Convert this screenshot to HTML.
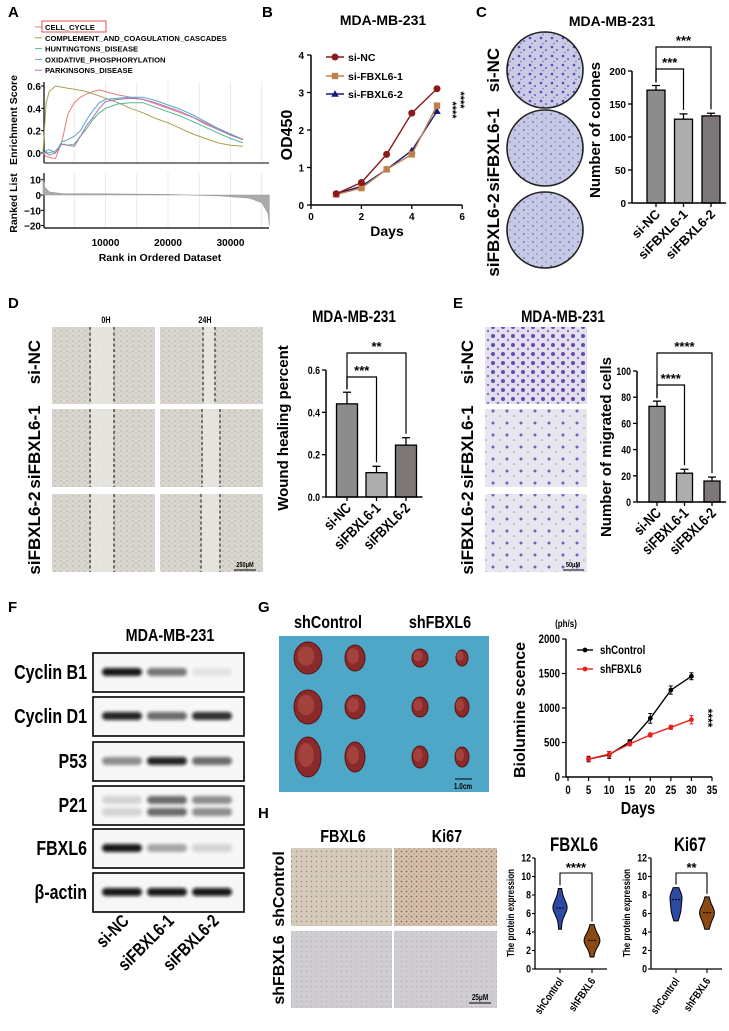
<!DOCTYPE html>
<html><head><meta charset="utf-8">
<style>
html,body{margin:0;padding:0;background:#fff;}
svg{display:block;font-family:"Liberation Sans",Arial,sans-serif;}
.n{font-family:"Liberation Sans",Arial,sans-serif;font-weight:bold;}
</style></head>
<body>
<svg id="fig" width="729" height="1031" viewBox="0 0 729 1031" xmlns="http://www.w3.org/2000/svg">
<defs>
<filter id="blur" x="-20%" y="-50%" width="140%" height="200%"><feGaussianBlur stdDeviation="1.6"/></filter>
<pattern id="colony" width="11" height="9" patternUnits="userSpaceOnUse">
<rect width="11" height="9" fill="#c9cbe5"/><circle cx="2" cy="2" r="1.3" fill="#5547b5"/><circle cx="7" cy="5" r="1" fill="#6a5cc0"/><circle cx="4" cy="7.5" r="0.8" fill="#7a70c8"/></pattern>
<pattern id="colony2" width="9" height="8" patternUnits="userSpaceOnUse">
<rect width="9" height="8" fill="#c6c9e3"/><circle cx="2" cy="2" r="0.9" fill="#6a5cc0"/><circle cx="6" cy="6" r="0.7" fill="#7e74cc"/></pattern>
<pattern id="wound" width="6" height="5" patternUnits="userSpaceOnUse">
<rect width="6" height="5" fill="#d9d6cf"/><circle cx="1" cy="1" r="0.6" fill="#a29a90"/><circle cx="4" cy="3" r="0.5" fill="#b5aea4"/></pattern>
<pattern id="trans" width="14" height="12" patternUnits="userSpaceOnUse">
<rect width="14" height="12" fill="#e6e6ee"/><circle cx="3" cy="3" r="1.5" fill="#7a5cc0"/><circle cx="10" cy="8" r="0.8" fill="#9a8ad0"/></pattern>
<pattern id="trans1" width="10" height="9" patternUnits="userSpaceOnUse">
<rect width="10" height="9" fill="#e2e0ec"/><circle cx="3" cy="3" r="2" fill="#6a48b8"/><circle cx="8" cy="7" r="1.2" fill="#8a70c8"/></pattern>
<pattern id="ihc1" width="5" height="5" patternUnits="userSpaceOnUse">
<rect width="5" height="5" fill="#d4cbbd"/><circle cx="1.5" cy="1.5" r="0.7" fill="#a88060"/></pattern>
<pattern id="ihc2" width="5" height="5" patternUnits="userSpaceOnUse">
<rect width="5" height="5" fill="#d2c2b0"/><circle cx="1.5" cy="1.5" r="0.9" fill="#a06040"/><circle cx="4" cy="4" r="0.6" fill="#b07860"/></pattern>
<pattern id="ihc3" width="5" height="5" patternUnits="userSpaceOnUse">
<rect width="5" height="5" fill="#cfcdd2"/><circle cx="1.5" cy="1.5" r="0.5" fill="#a8a0a0"/></pattern>
</defs>
<g id="root"></g>
</svg>
<script>
// ---------- DATA ----------
const gseaRanks = [0,500,1000,2000,3000,4000,5000,6000,7000,8000,9000,10000,12000,14000,16000,18000,20000,22000,24000,26000,28000,30000,32000];
const gseaNames = ["CELL_CYCLE","COMPLEMENT_AND_COAGULATION_CASCADES","HUNTINGTONS_DISEASE","OXIDATIVE_PHOSPHORYLATION","PARKINSONS_DISEASE"];
const esCellCycle = [0,-0.03,-0.04,-0.05,0.1,0.35,0.45,0.5,0.53,0.55,0.565,0.55,0.52,0.5,0.48,0.44,0.4,0.36,0.32,0.27,0.22,0.17,0.12];
const esComplement = [0,0.45,0.55,0.6,0.59,0.58,0.57,0.56,0.55,0.53,0.51,0.49,0.45,0.4,0.36,0.31,0.27,0.22,0.17,0.13,0.09,0.07,0.06];
const esHuntington = [0,0.01,0,0.02,0.08,0.07,0.08,0.15,0.22,0.3,0.36,0.4,0.44,0.45,0.45,0.41,0.37,0.33,0.28,0.23,0.18,0.13,0.09];
const esOxidative = [0,0.02,0.03,0,0.1,0.12,0.15,0.2,0.3,0.38,0.45,0.48,0.49,0.5,0.5,0.47,0.43,0.39,0.34,0.28,0.22,0.17,0.12];
const esParkinson = [0,0,-0.02,0,0.08,0.07,0.06,0.15,0.25,0.32,0.4,0.46,0.48,0.49,0.48,0.45,0.41,0.37,0.32,0.26,0.21,0.16,0.12];
const rlRanks = [0,300,1000,3000,10000,20000,28000,33000,35000,36000,36200];
const rlValues = [11,5,2,1,0.8,0.4,-0.5,-2,-5,-12,-20];
const esTicks = [0.0,0.2,0.4,0.6];
const rlTicks = [10,0,-10,-20];
const rankTicks = [10000,20000,30000];

const odDays = [1,2,3,4,5];
const odSiNC = [0.3,0.6,1.35,2.45,3.1];
const odSi1 = [0.28,0.45,0.95,1.35,2.65];
const odSi2 = [0.3,0.5,0.95,1.45,2.5];
const odXTicks = [0,2,4,6];
const odYTicks = [0,1,2,3,4];

const groups = ["si-NC","siFBXL6-1","siFBXL6-2"];
const colonyVals = [171,127,132];
const colonyErr = [7,8,4];
const colonyTicks = [0,50,100,150,200];
const woundVals = [0.44,0.115,0.245];
const woundErr = [0.055,0.03,0.035];
const woundTicks = [0.0,0.2,0.4,0.6];
const migVals = [73,22,16];
const migErr = [4,3,3];
const migTicks = [0,20,40,60,80,100];

const blotRows = ["Cyclin B1","Cyclin D1","P53","P21","FBXL6","β-actin"];
const blotIntensity = [[0.95,0.55,0.08],[0.9,0.6,0.85],[0.45,0.9,0.6],[0.15,0.6,0.45],[0.95,0.35,0.15],[0.95,0.95,0.95]];

const bioDays = [5,10,15,20,25,30];
const bioCtrl = [260,320,510,850,1260,1460];
const bioCtrlErr = [40,50,30,70,60,50];
const bioSh = [260,330,480,610,720,830];
const bioShErr = [30,40,30,30,30,60];
const bioXTicks = [0,5,10,15,20,25,30,35];
const bioYTicks = [0,500,1000,1500,2000];

const violinGroups = ["shControl","shFBXL6"];
const fbxl6Ctrl = [4.3,5.4,6.0,6.3,6.5,6.6,6.8,7.0,7.3,7.8,8.7];
const fbxl6Sh = [1.3,2.2,2.7,2.9,3.0,3.1,3.3,3.6,4.0,4.8];
const ki67Ctrl = [5.2,6.0,6.3,6.5,7.0,7.5,7.7,7.9,8.1,8.8];
const ki67Sh = [4.3,5.0,5.5,5.8,6.0,6.1,6.3,6.6,7.0,7.8];
const violinTicks = [0,2,4,6,8,10,12];

// ---------- HELPERS ----------
const NS="http://www.w3.org/2000/svg";
const root=document.getElementById('root');
function mk(tag,attrs,name,parent){
  const e=document.createElementNS(NS,tag);
  for(const k in attrs) e.setAttribute(k,attrs[k]);
  
  
  (parent||root).appendChild(e);
  return e;
}
function txt(x,y,s,size,name,opt){
  opt=opt||{};
  const a={x:x,y:y,'font-size':size,'text-anchor':opt.anchor||'middle',fill:opt.fill||'#000','font-weight':'bold'};
  let tr='';
  if(opt.rot!==undefined) tr+='rotate('+opt.rot+' '+x+' '+y+') ';
  if(opt.cls==='n') tr+='translate('+x+' '+y+') scale(0.8 1) translate('+(-x)+' '+(-y)+')';
  if(tr) a.transform=tr;
  const t=mk('text',a,name,opt.parent);
  t.textContent=s;
  return t;
}
function line(x1,y1,x2,y2,name,w,c,extra){
  const a={x1:x1,y1:y1,x2:x2,y2:y2,stroke:c||'#000','stroke-width':w||1.3};
  if(extra) for(const k in extra) a[k]=extra[k];
  return mk('line',a,name);
}
function path(d,name,stroke,w,fill){
  return mk('path',{d:d,stroke:stroke||'none','stroke-width':w||1,fill:fill||'none'},name);
}
function poly(xs,ys){return xs.map((x,i)=>(i?'L':'M')+x.toFixed(1)+','+ys[i].toFixed(1)).join('');}

[["A",8,17],["B",262,17],["C",476,17],["D",8,308],["E",453,308],["F",8,612],["G",258,612],["H",258,818]].forEach(p=>{
  txt(p[1],p[2],p[0],15,'panel-label-'+p[0].toLowerCase(),{anchor:'start'});
});

// ---------- PANEL A ----------
(function(){
  const xA=r=>43+r*0.00625, yES=v=>153-v*111.7, yRL=v=>195-v*1.53;
  const colors=["#e87a80","#a8a050","#50b890","#50a8d0","#b070b0"];
  const series=[esCellCycle,esComplement,esHuntington,esOxidative,esParkinson];
  gseaNames.forEach((n,i)=>{
    const y=27+i*10.8;
    line(35,y,42,y,'gsea-legend-line-'+i,1,colors[i]);
    txt(45,y+3,n,7.6,'gsea-legend-entry-'+i,{anchor:'start'});
  });
  mk('rect',{x:42,y:21,width:64,height:11,fill:'none',stroke:'#e04040','stroke-width':0.9},'cell-cycle-highlight-box');
  for(let r=5000;r<36000;r+=5000){
    line(xA(r),82,xA(r),163,'es-grid-line',0.8,'#e6e6e6');
    line(xA(r),173,xA(r),228,'rl-grid-line',0.8,'#e6e6e6');
  }
  line(44,82,44,163,'es-y-axis',1.2); line(44,163,269,163,'es-x-axis',1.5,'#555');
  line(44,173,44,228,'rl-y-axis',1.2); line(44,228,269,228,'rl-x-axis',1.2);
  esTicks.forEach(t=>{txt(41,yES(t)+4,t.toFixed(1),10,'es-tick-label',{anchor:'end'});line(41,yES(t),44,yES(t),'es-tick',1);});
  rlTicks.forEach(t=>{txt(41,yRL(t)+4,String(t).replace('-','−'),10,'rl-tick-label',{anchor:'end'});line(41,yRL(t),44,yRL(t),'rl-tick',1);});
  rankTicks.forEach(t=>{txt(xA(t),246,String(t),10,'rank-tick-label');});
  txt(160,261,'Rank in Ordered Dataset',10.5,'rank-axis-title');
  txt(17,120,'Enrichment Score',10.5,'es-axis-title',{rot:-90});
  txt(17,203,'Ranked List',10.5,'rl-axis-title',{rot:-90});
  const xs=rlRanks.map(xA), ys=rlValues.map(yRL);
  path(poly(xs,ys)+'L'+xs[xs.length-1]+','+yRL(0)+'L'+xs[0]+','+yRL(0)+'Z','ranked-list-area','#999',0.6,'#aaa');
  series.forEach((s,i)=>{
    path(poly(gseaRanks.map(xA),s.map(yES)),'es-curve-'+gseaNames[i].toLowerCase(),colors[i],1);
  });
})();

// ---------- PANEL B ----------
(function(){
  const xB=d=>311+d*25.2, yB=v=>205-v*37.5;
  txt(383,25,'MDA-MB-231',14,'od-title');
  line(311,yB(4),311,205,'od-y-axis',1.5); line(311,205,xB(6),205,'od-x-axis',1.5);
  odYTicks.forEach(t=>{line(307,yB(t),311,yB(t),'od-y-tick',1.3);txt(304,yB(t)+4,String(t),10,'od-y-tick-label',{anchor:'end'});});
  odXTicks.forEach(t=>{line(xB(t),205,xB(t),209,'od-x-tick',1.3);txt(xB(t),220,String(t),10,'od-x-tick-label');});
  txt(387,236,'Days',14,'od-x-title');
  txt(292,135,'OD450',16,'od-y-title',{rot:-90});
  const sers=[[odSi2,'#1a1a78','tri','si-FBXL6-2'],[odSi1,'#c0804a','sq','si-FBXL6-1'],[odSiNC,'#8b1a1a','circ','si-NC']];
  sers.forEach(s=>{
    path(poly(odDays.map(xB),s[0].map(yB)),'od-line-'+s[3],s[1],1.4);
    s[0].forEach((v,i)=>marker(xB(odDays[i]),yB(v),s[2],s[1],'od-point-'+s[3]));
  });
  function marker(x,y,t,c,n){
    if(t==='circ') mk('circle',{cx:x,cy:y,r:3.5,fill:c},n);
    else if(t==='sq') mk('rect',{x:x-3.2,y:y-3.2,width:6.4,height:6.4,fill:c},n);
    else path('M'+x+','+(y-3.8)+'L'+(x+3.8)+','+(y+2.8)+'L'+(x-3.8)+','+(y+2.8)+'Z',n,'none',0,c);
  }
  const leg=[['si-NC','#8b1a1a','circ',57],['si-FBXL6-1','#c0804a','sq',76],['si-FBXL6-2','#1a1a78','tri',94]];
  leg.forEach(l=>{line(326,l[3],344,l[3],'od-legend-line',1.4,l[1]);marker(335,l[3],l[2],l[1],'od-legend-marker');txt(348,l[3]+4,l[0],10.5,'od-legend-entry',{anchor:'start'});});
  txt(449,110,'****',11,'od-sig-1',{rot:90});
  txt(457,100,'****',11,'od-sig-2',{rot:90});
})();

function barChart(o){
  const fills=['#8c8c8c','#adadad','#7d7777'];
  o.vals.forEach((v,i)=>{
    const x=o.xc(i);
    mk('rect',{x:x-o.bw/2,y:o.y(v),width:o.bw,height:o.y0-o.y(v),fill:fills[i],stroke:'#000','stroke-width':1.3},o.pref+'-bar-'+groups[i]);
    line(x,o.y(v),x,o.y(v+o.err[i]),o.pref+'-error-bar',1.3);
    line(x-4,o.y(v+o.err[i]),x+4,o.y(v+o.err[i]),o.pref+'-error-cap',1.3);
    txt(x+5,o.y0+12,groups[i],o.xfs,o.pref+'-x-label',{anchor:'end',rot:-45,cls:o.narrow?'n':null});
  });
  const top=o.ticks[o.ticks.length-1];
  line(o.axisX,o.y(top),o.axisX,o.y0,o.pref+'-y-axis',1.5);
  line(o.axisX,o.y0,o.xc(2)+o.bw/2+6,o.y0,o.pref+'-x-axis',1.5);
  o.ticks.forEach(t=>{line(o.axisX-4,o.y(t),o.axisX,o.y(t),o.pref+'-y-tick',1.3);txt(o.axisX-6,o.y(t)+4,o.fmt(t),o.fs,o.pref+'-y-tick-label',{anchor:'end',cls:o.narrow?'n':null});});
  for(let i=0;i<3;i++) line(o.xc(i),o.y0,o.xc(i),o.y0+4,o.pref+'-x-tick',1.3);
  txt(o.lx,o.ly,o.label,o.lfs,o.pref+'-y-title',{rot:-90});
  o.br.forEach(b=>{
    const x1=o.xc(b[2]),x2=o.xc(b[3]);
    const y2=o.y(o.vals[b[3]]+o.err[b[3]])-4;
    path('M'+x1+','+(o.y(o.vals[b[2]]+o.err[b[2]])-3)+'L'+x1+','+b[0]+'L'+x2+','+b[0]+'L'+x2+','+y2,o.pref+'-sig-bracket','#000',1.2);
    txt((x1+x2)/2,b[0]-2,b[1],13,o.pref+'-sig-stars');
  });
}

// ---------- PANEL C ----------
(function(){
  txt(612,26,'MDA-MB-231',14,'colony-title');
  [[70,'colony'],[148,'colony2'],[230,'colony2']].forEach((c,i)=>{
    mk('circle',{cx:545,cy:c[0],r:38,fill:'url(#'+c[1]+')',stroke:'#222','stroke-width':1.6},'colony-dish-'+groups[i]);
  });
  txt(499,70,'si-NC',17,'colony-row-label-si-nc',{rot:-90});
  txt(499,150,'siFBXL6-1',17,'colony-row-label-sifbxl6-1',{rot:-90});
  txt(499,235,'siFBXL6-2',17,'colony-row-label-sifbxl6-2',{rot:-90});
  barChart({xc:i=>656+i*27.5,y:v=>203-v*0.66,axisX:632,y0:203,ticks:colonyTicks,vals:colonyVals,err:colonyErr,bw:18,
    fmt:t=>String(t),fs:10,label:'Number of colones',lx:600,ly:130,lfs:15,pref:'colony',narrow:false,
    br:[[69,'***',0,1],[47,'***',0,2]],xfs:13});
})();

// ---------- PANEL D ----------
(function(){
  txt(106,323,'0H',9,'wound-col-label-0h',{cls:'n'});
  txt(205,323,'24H',9,'wound-col-label-24h',{cls:'n'});
  const rows=[[327,404],[409,487],[494,572]];
  const dash24=[[203,215],[202,220],[201,220]];
  rows.forEach((r,i)=>{
    [[52,155,[90,114]],[160,263,dash24[i]]].forEach((c,j)=>{
      mk('rect',{x:c[0],y:r[0],width:c[1]-c[0],height:r[1]-r[0],fill:'url(#wound)'},'wound-image-'+groups[i]+'-'+(j?'24h':'0h'));
      mk('rect',{x:c[2][0]+1,y:r[0],width:c[2][1]-c[2][0]-2,height:r[1]-r[0],fill:'#e8e6e2',opacity:0.85},'wound-gap');
      c[2].forEach(x=>line(x,r[0],x,r[1],'wound-edge-dash',1,'#111',{'stroke-dasharray':'3,2.5'}));
    });
  });
  txt(245,567,'250μM',7,'wound-scale-text',{cls:'n'});
  line(234,570,256,570,'wound-scale-bar',1);
  txt(40,362,'si-NC',17,'wound-row-label-si-nc',{rot:-90});
  txt(40,447,'siFBXL6-1',17,'wound-row-label-sifbxl6-1',{rot:-90});
  txt(40,533,'siFBXL6-2',17,'wound-row-label-sifbxl6-2',{rot:-90});
  txt(354,322,'MDA-MB-231',17,'wound-title',{cls:'n'});
  barChart({xc:i=>347+i*29.5,y:v=>497-v*211.7,axisX:326,y0:497,ticks:woundTicks,vals:woundVals,err:woundErr,bw:21,
    fmt:t=>t.toFixed(1),fs:11,label:'Wound healing percent',lx:288,ly:428,lfs:15,pref:'wound',narrow:true,
    br:[[377,'***',0,1],[353,'**',0,2]],xfs:15});
})();

// ---------- PANEL E ----------
(function(){
  txt(563,322,'MDA-MB-231',17,'migration-title',{cls:'n'});
  const rows=[[327,404],[409,487],[494,572]];
  rows.forEach((r,i)=>{
    mk('rect',{x:485,y:r[0],width:102,height:r[1]-r[0],fill:i===0?'url(#trans1)':'url(#trans)'},'transwell-image-'+groups[i]);
  });
  txt(573,567,'50μM',7,'transwell-scale-text',{cls:'n'});
  line(563,570,584,570,'transwell-scale-bar',1);
  txt(473,362,'si-NC',17,'transwell-row-label-si-nc',{rot:-90});
  txt(473,447,'siFBXL6-1',17,'transwell-row-label-sifbxl6-1',{rot:-90});
  txt(473,533,'siFBXL6-2',17,'transwell-row-label-sifbxl6-2',{rot:-90});
  barChart({xc:i=>657+i*27.5,y:v=>502-v*1.31,axisX:637,y0:502,ticks:migTicks,vals:migVals,err:migErr,bw:16,
    fmt:t=>String(t),fs:11,label:'Number of migrated cells',lx:611,ly:447,lfs:15,pref:'migration',narrow:true,
    br:[[385,'****',0,1],[353,'****',0,2]],xfs:15});
})();

// ---------- PANEL F ----------
(function(){
  txt(170,641,'MDA-MB-231',18,'blot-title',{cls:'n'});
  const tops=[653,697,742,786,829,873], lanes=[122,167,212];
  blotRows.forEach((name,r)=>{
    const t=tops[r];
    mk('rect',{x:93,y:t,width:151,height:39,fill:'#f7f7f7',stroke:'#000','stroke-width':1.6},'blot-box-'+name);
    lanes.forEach((x,l)=>{
      const a=blotIntensity[r][l];
      const by = name==='P21' ? [t+14,t+26] : [t+19];
      by.forEach(yy=>mk('rect',{x:x-20,y:yy-4,width:40,height:8,rx:4,fill:'#111',opacity:a,filter:'url(#blur)'},'blot-band-'+name+'-'+groups[l]));
    });
    txt(87,t+26,name,20,'blot-row-label-'+name,{anchor:'end',cls:'n'});
  });
  lanes.forEach((x,l)=>txt(x+8,922,groups[l],18,'blot-lane-label-'+groups[l],{anchor:'end',rot:-45,cls:'n'}));
})();

// ---------- PANEL G ----------
(function(){
  txt(328,628,'shControl',18,'tumor-group-label-shcontrol',{cls:'n'});
  txt(440,628,'shFBXL6',18,'tumor-group-label-shfbxl6',{cls:'n'});
  mk('rect',{x:279,y:636,width:210,height:156,fill:'#4fa7c7'},'tumor-photo');
  const cols=[308,355,420,462], rowsY=[658,707,757];
  const sizes=[[[14,16],[10,13],[8,9],[6,8]],[[14,17],[10,12],[8,10],[7,10]],[[13,20],[10,15],[8,11],[7,10]]];
  rowsY.forEach((y,r)=>cols.forEach((x,c)=>{
    const s=sizes[r][c];
    mk('ellipse',{cx:x,cy:y,rx:s[0],ry:s[1],fill:'#8a2a2a',stroke:'#5a1515','stroke-width':1},'tumor');
    mk('ellipse',{cx:x-2,cy:y-2,rx:s[0]*0.6,ry:s[1]*0.6,fill:'#b4544a',opacity:0.6},'tumor-highlight');
  }));
  line(455,779,472,779,'tumor-scale-bar',1);
  txt(463,789,'1.0cm',8,'tumor-scale-text',{cls:'n'});
  const xG=d=>568+d*4.114, yG=v=>777-v*0.069;
  txt(566,627,'(ph/s)',10,'bio-unit',{cls:'n'});
  line(566,yG(2000),566,777,'bio-y-axis',1.4); line(566,777,xG(35),777,'bio-x-axis',1.4);
  bioYTicks.forEach(t=>{line(562,yG(t),566,yG(t),'bio-y-tick',1.2);txt(560,yG(t)+4,String(t),12,'bio-y-tick-label',{anchor:'end',cls:'n'});});
  bioXTicks.forEach(t=>{line(xG(t),777,xG(t),781,'bio-x-tick',1.2);txt(xG(t),794,String(t),12,'bio-x-tick-label',{cls:'n'});});
  txt(638,814,'Days',18,'bio-x-title',{cls:'n'});
  txt(525,710,'Biolumine scence',16,'bio-y-title',{rot:-90});
  [[bioCtrl,bioCtrlErr,'#000','shcontrol'],[bioSh,bioShErr,'#e8201c','shfbxl6']].forEach(s=>{
    path(poly(bioDays.map(xG),s[0].map(yG)),'bio-line-'+s[3],s[2],1.4);
    s[0].forEach((v,i)=>{
      const x=xG(bioDays[i]);
      line(x,yG(v-s[1][i]),x,yG(v+s[1][i]),'bio-error-bar',1,s[2]);
      line(x-2,yG(v+s[1][i]),x+2,yG(v+s[1][i]),'bio-error-cap',1,s[2]);
      line(x-2,yG(v-s[1][i]),x+2,yG(v-s[1][i]),'bio-error-cap',1,s[2]);
      mk('circle',{cx:x,cy:yG(v),r:2.4,fill:s[2]},'bio-point-'+s[3]);
    });
  });
  [['shControl','#000',650],['shFBXL6','#e8201c',669]].forEach(l=>{
    line(577,l[2],593,l[2],'bio-legend-line',1.4,l[1]);
    mk('circle',{cx:585,cy:l[2],r:2.4,fill:l[1]},'bio-legend-marker');
    txt(600,l[2]+4,l[0],12,'bio-legend-entry',{anchor:'start',cls:'n'});
  });
  txt(704,718,'****',12,'bio-sig',{rot:90});
})();

// ---------- PANEL H ----------
(function(){
  txt(343,842,'FBXL6',18,'ihc-col-label-fbxl6',{cls:'n'});
  txt(447,842,'Ki67',18,'ihc-col-label-ki67',{cls:'n'});
  mk('rect',{x:291,y:848,width:101,height:78,fill:'url(#ihc1)'},'ihc-shcontrol-fbxl6');
  mk('rect',{x:394,y:848,width:103,height:78,fill:'url(#ihc2)'},'ihc-shcontrol-ki67');
  mk('rect',{x:291,y:931,width:101,height:77,fill:'url(#ihc3)'},'ihc-shfbxl6-fbxl6');
  mk('rect',{x:394,y:931,width:103,height:77,fill:'url(#ihc3)'},'ihc-shfbxl6-ki67');
  line(469,1003,491,1003,'ihc-scale-bar',1);
  txt(480,1000,'25μM',8,'ihc-scale-text',{cls:'n'});
  txt(284,889,'shControl',16,'ihc-row-label-shcontrol',{rot:-90});
  txt(284,970,'shFBXL6',16,'ihc-row-label-shfbxl6',{rot:-90});
  const yH=v=>969-v*9.25;
  violin({ax:535,xs:[560,592],data:[fbxl6Ctrl,fbxl6Sh],title:'FBXL6',tx:574,stars:'****',lx:514,pref:'fbxl6'});
  violin({ax:651,xs:[676,707],data:[ki67Ctrl,ki67Sh],title:'Ki67',tx:690,stars:'**',lx:630,pref:'ki67'});
  function violin(o){
    txt(o.tx,851,o.title,19,o.pref+'-violin-title',{cls:'n'});
    line(o.ax,yH(12),o.ax,969,o.pref+'-y-axis',1.3);
    line(o.ax,969,o.xs[1]+15,969,o.pref+'-x-axis',1.3);
    violinTicks.forEach(t=>{line(o.ax-3,yH(t),o.ax,yH(t),o.pref+'-y-tick',1.1);txt(o.ax-4,yH(t)+3.5,String(t),11,o.pref+'-y-tick-label',{anchor:'end',cls:'n'});});
    txt(o.lx,913,'The protein expression',10,o.pref+'-y-title',{rot:-90,cls:'n'});
    const cols=['#2d4aa5','#8a4a14'];
    o.data.forEach((d,i)=>{
      const cx=o.xs[i];
      line(cx,969,cx,973,o.pref+'-x-tick',1.1);
      const mn=Math.min(...d), mx=Math.max(...d), bw=0.6;
      const L=[],R=[],ys=[];
      for(let k=0;k<=30;k++){
        const v=mn+(mx-mn)*k/30;
        let den=0; d.forEach(s=>den+=Math.exp(-0.5*((v-s)/bw)**2));
        const w=den/d.length*13;
        L.push(cx-w);R.push(cx+w);ys.push(yH(v));
      }
      const dstr=poly(R,ys)+poly(L.slice().reverse(),ys.slice().reverse()).replace('M','L')+'Z';
      path(dstr,o.pref+'-violin-'+violinGroups[i],'#000',1,cols[i]);
      const med=d.slice().sort((a,b)=>a-b)[Math.floor(d.length/2)];
      line(cx-4,yH(med),cx+4,yH(med),o.pref+'-violin-median',1,'#000',{'stroke-dasharray':'2,1'});
      txt(cx+4,981,violinGroups[i],11,o.pref+'-x-label',{anchor:'end',rot:-55,cls:'n'});
    });
    const by=873;
    path('M'+o.xs[0]+','+(yH(Math.max(...o.data[0]))-3)+'L'+o.xs[0]+','+by+'L'+o.xs[1]+','+by+'L'+o.xs[1]+','+(yH(Math.max(...o.data[1]))-3),o.pref+'-sig-bracket','#000',1.1);
    txt((o.xs[0]+o.xs[1])/2,by-1,o.stars,13,o.pref+'-sig-stars');
  }
})();
</script>
</body></html>
